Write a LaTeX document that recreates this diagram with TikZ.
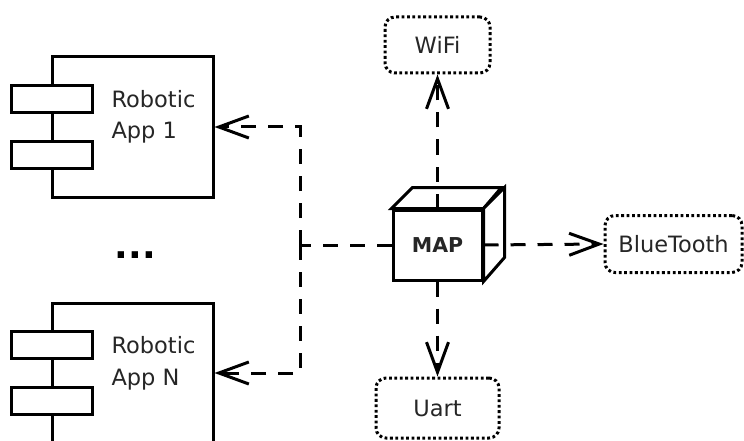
\documentclass[tikz,border=0pt]{standalone}
\usepackage{fontspec}
\setmainfont{DejaVu Sans}
\usetikzlibrary{arrows.meta}
\begin{document}
\begin{tikzpicture}[x=1pt,y=-1pt,
  line width=3pt,
  compbox/.style={draw, fill=white, minimum width=161pt, minimum height=140pt, inner sep=0pt},
  port/.style={draw, fill=white, minimum width=81pt, minimum height=27pt, inner sep=0pt},
  lbl/.style={anchor=base west, inner sep=0pt, font=\fontsize{22.5}{26}\selectfont, text=black!85},
  iface/.style={draw, dash pattern=on 2.8pt off 2.6pt, rounded corners=10pt, inner sep=0pt,
    font=\fontsize{22.5}{26}\selectfont, text=black!85},
  link/.style={dash pattern=on 15pt off 12pt},
  dep/.style={link, -{Straight Barb[length=30pt,width=22pt]}},
]
\path[use as bounding box, clip] (0,0) rectangle (744,441);

% components
\node[compbox] (app1) at (132.5,127) {};
\node[port] (p11) at (51.5,99) {};
\node[port] (p12) at (51.5,155) {};
\node[lbl] (t11) at (110,108) {Robotic};
\node[lbl] (t12) at (110,139) {App 1};

\node[compbox] (appN) at (132.5,373) {};
\node[port] (pN1) at (51.5,345) {};
\node[port] (pN2) at (51.5,401) {};
\node[lbl] (tN1) at (110,353) {Robotic};
\node[lbl] (tN2) at (110,385) {App N};

\node[anchor=base, inner sep=0pt, font=\bfseries\fontsize{36}{38}\selectfont] (dots) at (135.5,258) {...};

% MAP cube
\node[draw, fill=white, minimum width=89pt, minimum height=70pt, inner sep=0pt,
      font=\bfseries\fontsize{20.5}{24}\selectfont, text=black!85] (map) at (437.5,245) {MAP};
\draw[fill=white, line join=miter] (map.north west) -- ++(21,-21) -- ++(89,0) -- (map.north east) -- cycle;
\draw[fill=white, line join=miter] (map.north east) -- ++(21,-21) -- ++(0,70) -- (map.south east) -- cycle;

% interfaces
\node[iface, minimum width=105pt, minimum height=56pt] (wifi) at (437.5,45) {WiFi};
\node[iface, minimum width=137pt, minimum height=57pt] (bt) at (673.5,244) {BlueTooth};
\node[iface, minimum width=123pt, minimum height=60pt] (uart) at (437.5,408) {Uart};

% connectors
\coordinate (j) at (300,245);
\draw[link] (map.west) -- (j);
\draw[dep] (j) |- (app1.east);
\draw[dep] (j) |- (appN.east);
\draw[dep] (map.north) -- (wifi.south);
\draw[dep] (map.south) -- (uart.north);
\draw[dep] (map.east) -- (bt.west);
\end{tikzpicture}
\end{document}
